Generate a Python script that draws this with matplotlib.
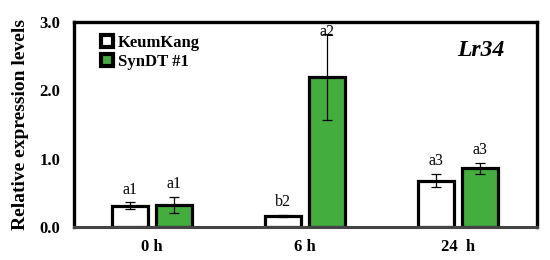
import matplotlib
matplotlib.use("Agg")
import matplotlib.pyplot as plt
from matplotlib.lines import Line2D
import numpy as np

times = ["0 h", "6 h", "24  h"]
cultivars = ["KeumKang", "SynDT #1"]
keumkang = [0.31, 0.16, 0.68]
keumkang_err = [0.05, 0.02, 0.10]
syndt = [0.32, 2.20, 0.86]
syndt_err = [0.12, 0.63, 0.08]
keumkang_letters = ["a1", "b2", "a3"]
syndt_letters = ["a1", "a2", "a3"]


def main():
    plt.rcParams["font.family"] = ["Liberation Serif", "DejaVu Serif"]
    colors = ["white", "#43ad3d"]

    fig = plt.figure(figsize=(5.5, 2.6), dpi=100)
    ax = fig.add_axes([0.1345, 0.127, 0.842, 0.788])

    x = np.arange(len(times))
    width = 0.235
    offset = 0.144
    series = [(keumkang, keumkang_err, keumkang_letters), (syndt, syndt_err, syndt_letters)]
    for i, (vals, errs, letters) in enumerate(series):
        pos = x + (i * 2 - 1) * offset
        ax.bar(pos, vals, width, color=colors[i], edgecolor="black", linewidth=2.3, zorder=2)
        ax.errorbar(pos, vals, yerr=errs, fmt="none", ecolor="black", elinewidth=0.9,
                    capsize=3.5, capthick=0.9, zorder=3)
        for p, v, e, t in zip(pos, vals, errs, letters):
            ax.text(p, min(v + e + 0.07, 2.74), t, ha="center", va="bottom", fontsize=11.5, zorder=4)

    ax.set_xlim(-0.51, 2.52)
    ax.set_ylim(0, 3.0)
    ax.set_yticks([0, 1, 2, 3])
    ax.set_yticklabels(["0.0", "1.0", "2.0", "3.0"], fontsize=12, fontweight="bold")
    ax.set_xticks(x)
    ax.set_xticklabels(times, fontsize=12, fontweight="bold")
    ax.tick_params(length=0)
    ax.tick_params(axis="x", pad=9)
    ax.tick_params(axis="y", pad=10)
    fig.text(21 / 550, 0.52, "Relative expression levels", rotation=90, fontsize=14,
             fontweight="bold", ha="center", va="center")

    for side in ["left", "top", "right"]:
        ax.spines[side].set_linewidth(2.4)
        ax.spines[side].set_color("black")
    ax.spines["bottom"].set_linewidth(2.2)
    ax.spines["bottom"].set_color("#444444")

    ax.text(0.879, 0.863, "Lr34", transform=ax.transAxes, fontsize=17,
            fontweight="bold", fontstyle="italic", ha="center", va="center")

    handles = [Line2D([], [], ls="none", marker="s", markersize=9, markerfacecolor=c,
                      markeredgecolor="black", markeredgewidth=3) for c in colors]
    ax.legend(handles, cultivars, loc="upper left", bbox_to_anchor=(0.038, 0.985), frameon=False,
              prop={"weight": "bold", "size": 12}, handlelength=0.7, handletextpad=0.3,
              labelspacing=0.15, borderaxespad=0.2)

    fig.savefig("out.png", dpi=100)
    plt.close(fig)


if __name__ == "__main__":
    main()
